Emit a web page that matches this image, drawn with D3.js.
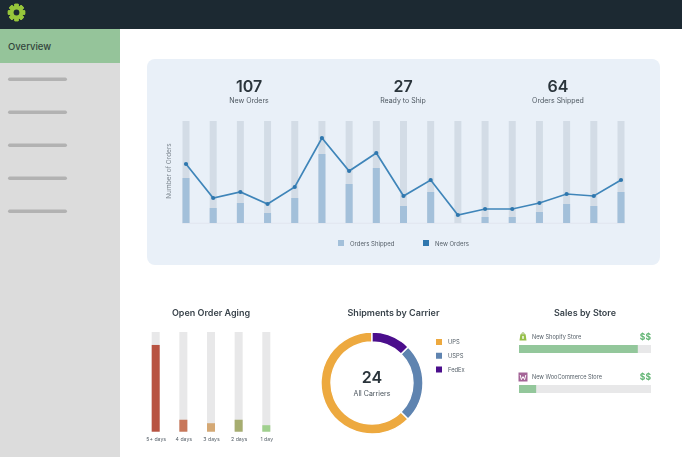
<!DOCTYPE html>
<html>
<head>
<meta charset="utf-8">
<script src="https://cdnjs.cloudflare.com/ajax/libs/d3/7.8.5/d3.min.js"></script>
<style>
  html, body { margin: 0; padding: 0; background: #fff; overflow: hidden; }
  svg { display: block; font-family: Inter, "Open Sans", sans-serif; filter: blur(0.45px); }
</style>
</head>
<body>
<div id="chart"></div>
<script>
// Top panel data
const days = d3.range(1, 18);
const newOrders = [59, 25, 31, 19, 36, 85, 52, 70, 27, 43, 8, 14, 14, 20, 29, 27, 43];
const ordersShipped = [45, 15, 20, 10, 25, 69, 39, 55, 17, 31, 0, 6, 6, 11, 19, 17, 31];
const ordersMax = 102;

const kpiValues = ["107", "27", "64"];
const kpiLabels = ["New Orders", "Ready to Ship", "Orders Shipped"];

// Open order aging
const agingLabels = ["5+ days", "4 days", "3 days", "2 days", "1 day"];
const agingValues = [87, 12, 8.5, 12, 6.5];
const agingColors = ["#b85342", "#c8775a", "#d4a874", "#a6ad70", "#a0d08e"];

// Shipments by carrier
const carriers = ["UPS", "USPS", "FedEx"];
const carrierValues = [15, 6, 3];
const carrierColors = ["#eda93f", "#5f84b0", "#4b0e8c"];

// Sales by store
const stores = ["New Shopify Store", "New WooCommerce Store"];
const storeValues = [90, 13];

const menuItems = [1, 2, 3, 4, 5];

const width = 682;
const height = 457;

const svg = d3.select("#chart").append("svg")
    .attr("width", width)
    .attr("height", height);

// Header and sidebar
svg.append("rect").attr("width", width).attr("height", 29).attr("fill", "#1c2932");
svg.append("rect").attr("y", 29).attr("width", 120).attr("height", height - 29).attr("fill", "#dcdcdc");
svg.append("rect").attr("y", 29).attr("width", 120).attr("height", 34).attr("fill", "#95c49a");
svg.append("text").attr("x", 8).attr("y", 50).attr("font-size", 9.5).attr("font-weight", 500)
    .attr("fill", "#33443c").text("Overview");

svg.selectAll(".menu")
    .data(menuItems)
    .enter().append("rect")
    .attr("class", "menu")
    .attr("x", 8)
    .attr("y", d => 44.5 + d * 33)
    .attr("width", 59)
    .attr("height", 3.5)
    .attr("rx", 1.7)
    .attr("fill", "#b2b2b2");

// Gear icon
const gear = svg.append("g").attr("transform", "translate(16.5,12.5)");
gear.selectAll("rect")
    .data(d3.range(8))
    .enter().append("rect")
    .attr("x", -2.2)
    .attr("y", -8.7)
    .attr("width", 4.4)
    .attr("height", 17.4)
    .attr("rx", 0.8)
    .attr("transform", d => `rotate(${d * 45})`)
    .attr("fill", "#97c63b");
gear.append("circle").attr("r", 6.6).attr("fill", "#97c63b");
gear.append("circle").attr("r", 2.9).attr("fill", "#1c2932");

// Main panel
svg.append("rect")
    .attr("x", 147).attr("y", 59)
    .attr("width", 513).attr("height", 206)
    .attr("rx", 8)
    .attr("fill", "#e9f0f8");

const kpiPos = [249, 403, 558];
kpiLabels.forEach((label, i) => {
    svg.append("text").attr("x", kpiPos[i]).attr("y", 91.5).attr("text-anchor", "middle")
        .attr("font-size", 16).attr("font-weight", 600).attr("fill", "#2a343b").text(kpiValues[i]);
    svg.append("text").attr("x", kpiPos[i]).attr("y", 103).attr("text-anchor", "middle")
        .attr("font-size", 7).attr("fill", "#4d5760").text(label);
});

const x = d3.scalePoint().domain(days).range([186, 621]);
const y = d3.scaleLinear().domain([0, ordersMax]).range([223, 121]);
const barW = 7;

svg.append("line").attr("x1", 182).attr("x2", 625).attr("y1", 223.3).attr("y2", 223.3)
    .attr("stroke", "#dfe3ec").attr("stroke-width", 0.8);

svg.selectAll(".track")
    .data(days)
    .enter().append("rect")
    .attr("class", "track")
    .attr("x", d => x(d) - barW / 2)
    .attr("y", y(ordersMax))
    .attr("width", barW)
    .attr("height", y(0) - y(ordersMax))
    .attr("fill", "#d3dce6");

svg.selectAll(".shipped")
    .data(ordersShipped)
    .enter().append("rect")
    .attr("class", "shipped")
    .attr("x", (d, i) => x(days[i]) - barW / 2)
    .attr("y", d => y(d))
    .attr("width", barW)
    .attr("height", d => y(0) - y(d))
    .attr("fill", "#a3c0da");

const line = d3.line()
    .x((d, i) => x(days[i]))
    .y(d => y(d));

svg.append("path")
    .attr("d", line(newOrders))
    .attr("fill", "none")
    .attr("stroke", "#3f85b9")
    .attr("stroke-width", 1.7);

svg.selectAll(".dot")
    .data(newOrders)
    .enter().append("circle")
    .attr("class", "dot")
    .attr("cx", (d, i) => x(days[i]))
    .attr("cy", d => y(d))
    .attr("r", 2.1)
    .attr("fill", "#2f77ae");

svg.append("text")
    .attr("transform", "translate(171,171) rotate(-90)")
    .attr("text-anchor", "middle")
    .attr("font-size", 6.5)
    .attr("fill", "#7d8790")
    .text("Number of Orders");

// Legend of the top chart
[["Orders Shipped", "#a3c0da", 338], ["New Orders", "#2f77ae", 423]].forEach(d => {
    svg.append("rect").attr("x", d[2]).attr("y", 240).attr("width", 6).attr("height", 6).attr("fill", d[1]);
    svg.append("text").attr("x", d[2] + 12).attr("y", 245.5).attr("font-size", 6)
        .attr("fill", "#555f68").text(d[0]);
});

// Section titles
[["Open Order Aging", 211], ["Shipments by Carrier", 393.5], ["Sales by Store", 585]].forEach(d => {
    svg.append("text").attr("x", d[1]).attr("y", 316).attr("text-anchor", "middle")
        .attr("font-size", 9).attr("font-weight", 600).attr("fill", "#3a444c").text(d[0]);
});

// Open order aging bars
const agingX = d3.scalePoint().domain(agingLabels).range([155.7, 266.3]);
const agingY = d3.scaleLinear().domain([0, 100]).range([431.7, 332]);

svg.selectAll(".agingTrack")
    .data(agingLabels)
    .enter().append("rect")
    .attr("class", "agingTrack")
    .attr("x", d => agingX(d) - 4)
    .attr("y", agingY(100))
    .attr("width", 8)
    .attr("height", agingY(0) - agingY(100))
    .attr("fill", "#e8e8e9");

svg.selectAll(".agingBar")
    .data(agingValues)
    .enter().append("rect")
    .attr("class", "agingBar")
    .attr("x", (d, i) => agingX(agingLabels[i]) - 4)
    .attr("y", d => agingY(d))
    .attr("width", 8)
    .attr("height", d => agingY(0) - agingY(d))
    .attr("fill", (d, i) => agingColors[i]);

const agingAxis = svg.append("g")
    .attr("transform", "translate(0,432)")
    .call(d3.axisBottom(agingX).tickSize(0).tickPadding(5));
agingAxis.select(".domain").remove();
agingAxis.selectAll("text")
    .attr("font-family", "Inter, sans-serif")
    .attr("font-size", 5.2)
    .attr("fill", "#555f68");

// Carrier donut, going counter-clockwise from the top so UPS fills the left side
const pie = d3.pie().sort(null).startAngle(0).endAngle(-2 * Math.PI);
const arc = d3.arc().innerRadius(41).outerRadius(51);
const donut = svg.append("g").attr("transform", "translate(372,383)");

donut.selectAll("path")
    .data(pie(carrierValues))
    .enter().append("path")
    .attr("d", arc)
    .attr("fill", (d, i) => carrierColors[i])
    .attr("stroke", "#fff")
    .attr("stroke-width", 1.4);

donut.append("text").attr("y", 0.3).attr("text-anchor", "middle").attr("font-size", 16)
    .attr("font-weight", 600).attr("fill", "#2a343b").text(d3.sum(carrierValues));
donut.append("text").attr("y", 12.5).attr("text-anchor", "middle").attr("font-size", 7)
    .attr("fill", "#4a545c").text("All Carriers");

const legendY = d3.scalePoint().domain(carriers).range([342, 369.5]);
svg.selectAll(".carrierKey")
    .data(carriers)
    .enter().append("rect")
    .attr("class", "carrierKey")
    .attr("x", 436)
    .attr("y", d => legendY(d) - 3)
    .attr("width", 6)
    .attr("height", 6)
    .attr("fill", (d, i) => carrierColors[i]);
svg.selectAll(".carrierLabel")
    .data(carriers)
    .enter().append("text")
    .attr("class", "carrierLabel")
    .attr("x", 448)
    .attr("y", d => legendY(d) + 2)
    .attr("font-size", 5.8)
    .attr("fill", "#555f68")
    .text(d => d);

// Sales by store bars
const salesX = d3.scaleLinear().domain([0, 100]).range([519, 651]);
const salesY = d3.scalePoint().domain(stores).range([345, 385]);

svg.selectAll(".salesTrack")
    .data(stores)
    .enter().append("rect")
    .attr("class", "salesTrack")
    .attr("x", salesX(0))
    .attr("y", d => salesY(d))
    .attr("width", salesX(100) - salesX(0))
    .attr("height", 8)
    .attr("fill", "#e8e8e9");

svg.selectAll(".salesBar")
    .data(storeValues)
    .enter().append("rect")
    .attr("class", "salesBar")
    .attr("x", salesX(0))
    .attr("y", (d, i) => salesY(stores[i]))
    .attr("width", d => salesX(d) - salesX(0))
    .attr("height", 8)
    .attr("fill", "#93c79b");

svg.selectAll(".storeName")
    .data(stores)
    .enter().append("text")
    .attr("class", "storeName")
    .attr("x", 532)
    .attr("y", d => salesY(d) - 6.5)
    .attr("font-size", 5.6)
    .attr("fill", "#555f68")
    .text(d => d);

svg.selectAll(".storeMoney")
    .data(stores)
    .enter().append("text")
    .attr("class", "storeMoney")
    .attr("x", 651)
    .attr("y", d => salesY(d) - 5.5)
    .attr("text-anchor", "end")
    .attr("font-size", 8.5)
    .attr("font-weight", 700)
    .attr("fill", "#62b574")
    .text("$$");

// Store icons
const shopify = svg.append("g").attr("transform", "translate(523,336.5)");
shopify.append("path").attr("d", "M-3.5,4 L-2.6,-2.2 L2.6,-2.2 L3.5,4 Z").attr("fill", "#95bf47");
shopify.append("path").attr("d", "M-1.2,-2 L-1,-3.6 L1,-3.6 L1.2,-2").attr("fill", "none").attr("stroke", "#7ea63a").attr("stroke-width", 0.7);
shopify.append("rect").attr("x", -0.7).attr("y", -0.6).attr("width", 1.4).attr("height", 3).attr("fill", "#fff");

const woo = svg.append("g").attr("transform", "translate(523,377)");
woo.append("rect").attr("x", -4.5).attr("y", -4.5).attr("width", 9).attr("height", 9).attr("fill", "#a46497");
woo.append("path").attr("d", "M-2.8,-2 L-1.6,2.6 L0,-0.4 L1.6,2.6 L2.8,-2")
    .attr("fill", "none").attr("stroke", "#fff").attr("stroke-width", 1);
</script>
</body>
</html>
